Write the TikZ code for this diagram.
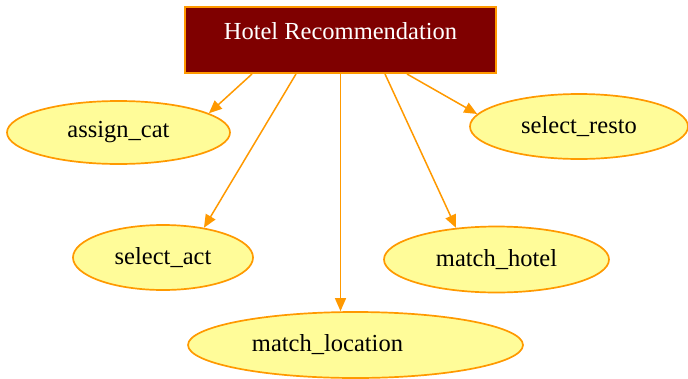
\documentclass[tikz,border=0pt]{standalone}
\usepackage{fontspec}
\setmainfont{Liberation Serif}
\usetikzlibrary{shapes.geometric,arrows.meta}
\definecolor{edgeor}{HTML}{FF9900}
\definecolor{boxred}{HTML}{7F0000}
\definecolor{elfill}{HTML}{FFFC99}
\begin{document}
\begin{tikzpicture}[x=1pt,y=-1pt, font=\fontsize{24.5}{28}\selectfont,
  ell/.style={ellipse, draw=edgeor, fill=elfill, line width=1.7pt, inner sep=0pt},
  hdr/.style={rectangle, draw=edgeor, fill=boxred, line width=2pt, inner sep=0pt},
  conn/.style={draw=edgeor, line width=1.5pt, -{Triangle[length=13pt,width=11pt]}}]
\useasboundingbox (0,0) rectangle (688,378);
\node[hdr, minimum width=311pt, minimum height=66pt,
      label={[text=white, yshift=8.4pt]center:Hotel Recommendation}] (hotel) at (340.5,40) {};
\node[ell, minimum width=223pt, minimum height=63pt] (assign) at (118.5,132.5) {assign\_cat};
\node[ell, minimum width=218pt, minimum height=65pt] (resto) at (579,126.5) {select\_resto};
\node[ell, minimum width=180pt, minimum height=65pt] (act) at (163,257.5) {select\_act};
\node[ell, minimum width=225pt, minimum height=66pt] (mhotel) at (496.5,259.5) {match\_hotel};
\node[ell, minimum width=335pt, minimum height=66pt,
      label={[xshift=-28pt]center:match\_location}] (loc) at (355.5,345) {};
\draw[conn] ([xshift=-88.5pt]hotel.south) -- (assign.12);
\draw[conn] ([xshift=-44.5pt]hotel.south) -- (act.36);
\draw[conn] (hotel.south) -- (hotel.south |- loc.north);
\draw[conn] ([xshift=44.5pt]hotel.south) -- (mhotel.142);
\draw[conn] ([xshift=66.5pt]hotel.south) -- (resto.173);
\end{tikzpicture}
\end{document}
